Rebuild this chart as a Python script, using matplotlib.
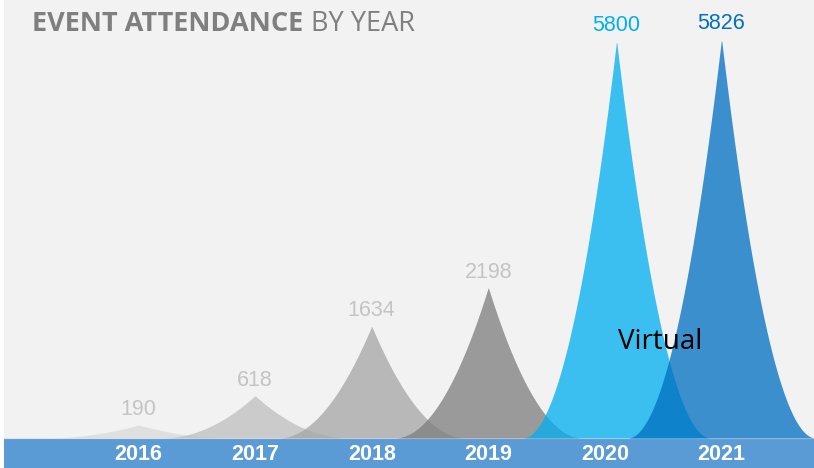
import numpy as np
import matplotlib
matplotlib.use("Agg")
import matplotlib.pyplot as plt

# data
years = ["2016", "2017", "2018", "2019", "2020", "2021"]
attendance = [190, 618, 1634, 2198, 5800, 5826]
virtual_note = "Virtual"

# styling
spike_colors = ["#d9d9d9", "#bfbfbf", "#a6a6a6", "#7f7f7f", "#00b0f0", "#0070c0"]
label_colors = ["#c4c4c4", "#c4c4c4", "#c4c4c4", "#c4c4c4", "#00b0f0", "#0070c0"]
peak_shift = [0, 0, 0, 0, 0.1, 0]
bg = "#f2f2f2"
band = "#5b9bd5"

W, H = 814, 468
px_per_unit = 0.0685      # vertical pixels per attendee
step = 116.6               # pixels between years
x0 = 138.5                 # pixel of first year

fig = plt.figure(figsize=(W / 100, H / 100), dpi=100, facecolor="white")
ax = fig.add_axes([4 / W, 0, (W - 4) / W, 1])
ax.set_facecolor(bg)
ax.set_xlim((4 - x0) / step, (W - x0) / step)
ax.set_ylim(-30 / px_per_unit, 438 / px_per_unit)
ax.axis("off")
ax.add_patch(plt.Rectangle((0, 0), 1, 1, transform=ax.transAxes, color=bg, zorder=0))

# bottom band
ax.axhspan(-30 / px_per_unit, 0, color=band, lw=0, zorder=1)
ax.axhline(0, color="#e4e4e4", lw=0.8, zorder=1.5)

half_w = 94 / step
for i, (yr, val) in enumerate(zip(years, attendance)):
    c = i + peak_shift[i]
    xs = np.linspace(c - half_w, c + half_w, 400)
    u = np.abs(xs - c) / half_w
    ys = val * (1 - u) ** 2
    ax.fill_between(xs, 0, ys, color=spike_colors[i], alpha=0.76, lw=0, zorder=2 + i * 0.1)
    ax.annotate(str(val), (c, val), xytext=(0, 7), textcoords="offset points",
                ha="center", va="baseline", fontsize=15.5, color=label_colors[i],
                family="Liberation Sans", zorder=5)
    ax.text(i, -22 / px_per_unit, yr, ha="center", va="baseline", fontsize=15.5,
            fontweight="bold", color="white", family="Liberation Sans", zorder=5)

ax.text(5.0 - 0.53, 1300, virtual_note, ha="center", va="baseline", fontsize=20,
        color="black", family="Open Sans", zorder=6)

# title
t1 = fig.text(32 / W, (H - 31) / H, "EVENT ATTENDANCE", fontsize=19.5, fontweight="bold",
              color="#7f7f7f", family="Open Sans", va="baseline")
fig.canvas.draw()
bb = t1.get_window_extent(fig.canvas.get_renderer())
fig.text(bb.x1 / W + 8 / W, (H - 31) / H, "BY YEAR", fontsize=19.5,
         color="#7f7f7f", family="Open Sans", va="baseline")

fig.savefig("out.png", dpi=100, facecolor="white")
